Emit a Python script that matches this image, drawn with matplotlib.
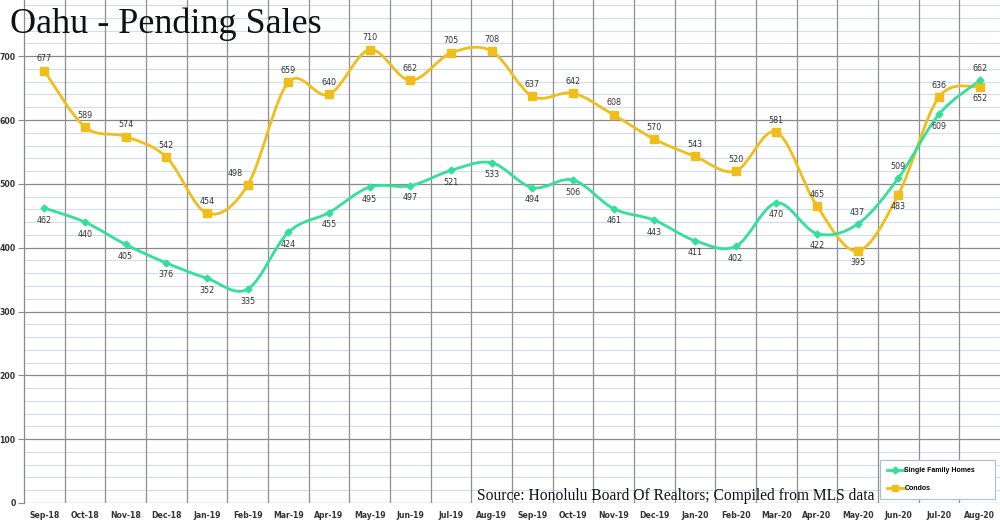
import matplotlib
matplotlib.use("Agg")
import matplotlib.pyplot as plt
import numpy as np
from matplotlib.path import Path
from matplotlib.patches import PathPatch
from matplotlib.lines import Line2D

months = ["Sep-18", "Oct-18", "Nov-18", "Dec-18", "Jan-19", "Feb-19", "Mar-19", "Apr-19",
          "May-19", "Jun-19", "Jul-19", "Aug-19", "Sep-19", "Oct-19", "Nov-19", "Dec-19",
          "Jan-20", "Feb-20", "Mar-20", "Apr-20", "May-20", "Jun-20", "Jul-20", "Aug-20"]
sfh = [462, 440, 405, 376, 352, 335, 424, 455, 495, 497, 521, 533,
       494, 506, 461, 443, 411, 402, 470, 422, 437, 509, 609, 662]
condos = [677, 589, 574, 542, 454, 498, 659, 640, 710, 662, 705, 708,
          637, 642, 608, 570, 543, 520, 581, 465, 395, 483, 636, 652]
sfh_above = {"May-20", "Jun-20", "Aug-20"}
condo_below = {"May-20", "Jun-20", "Aug-20"}

GREEN = "#33E09A"
YELLOW = "#F0BE19"

fig = plt.figure(figsize=(10, 5.22), dpi=100)
ax = fig.add_axes([0.024, 19 / 522, 0.976, 503 / 522])
n = len(months)
x = np.arange(n)
ax.set_xlim(-0.5, n - 0.5)
ax.set_ylim(0, 788)

# grid
for yv in range(0, 800, 20):
    if yv % 100 == 0:
        ax.axhline(yv, color="#8a8a8a", lw=0.9, zorder=1)
    else:
        ax.axhline(yv, color="#d3dbee", lw=0.8, zorder=0.5)
for b in np.arange(0.5, n - 0.5, 1):
    ax.axvline(b, color="#8f8f8f", lw=0.9, zorder=1)

def smooth_path(xs, ys):
    pts = np.column_stack([xs, ys]).astype(float)
    verts = [pts[0]]
    codes = [Path.MOVETO]
    m = len(pts)
    for i in range(m - 1):
        p0 = pts[i - 1] if i > 0 else pts[i]
        p1 = pts[i]
        p2 = pts[i + 1]
        p3 = pts[i + 2] if i + 2 < m else pts[i + 1]
        c1 = p1 + (p2 - p0) / 6.0
        c2 = p2 - (p3 - p1) / 6.0
        verts += [c1, c2, p2]
        codes += [Path.CURVE4] * 3
    return Path(verts, codes)

for ys, col in [(condos, YELLOW), (sfh, GREEN)]:
    ax.add_patch(PathPatch(smooth_path(x, ys), facecolor="none", edgecolor=col, lw=2.0, zorder=3))

ax.plot(x, condos, ls="none", marker="s", ms=6, color=YELLOW, zorder=4)
ax.plot(x, sfh, ls="none", marker="D", ms=3.5, color=GREEN, zorder=4)

lab_kw = dict(fontsize=5.8, color="#333333", ha="center", va="center",
              family="DejaVu Sans", zorder=5)
for i, (m, v) in enumerate(zip(months, sfh)):
    off = 12 if m in sfh_above else -12
    ax.annotate(str(v), (i, v), xytext=(0, off), textcoords="offset pixels", **lab_kw)
for i, (m, v) in enumerate(zip(months, condos)):
    off = -12 if m in condo_below else 12
    dx = -12 if m == "Feb-19" else 0
    ax.annotate(str(v), (i, v), xytext=(dx, off), textcoords="offset pixels", **lab_kw)

ax.set_xticks(x)
ax.set_xticklabels(months, fontsize=5.6, fontweight="bold", color="#333333")
ax.set_yticks(range(0, 800, 100))
ax.set_yticklabels([str(v) for v in range(0, 800, 100)], fontsize=5.6,
                   fontweight="bold", color="#333333")
ax.tick_params(axis="x", length=0, pad=6)
ax.tick_params(axis="y", length=4, color="#8a8a8a", pad=2)
for s in ["top", "right", "bottom"]:
    ax.spines[s].set_visible(False)
ax.spines["left"].set_color("#8a8a8a")
ax.spines["left"].set_linewidth(0.9)

fig.text(0.01, 0.985, "Oahu - Pending Sales", family="Liberation Serif",
         fontsize=26, va="top", ha="left", color="#111111")
fig.text(0.477, 0.043, "Source: Honolulu Board Of Realtors; Compiled from MLS data",
         family="Liberation Serif", fontsize=11.2, va="baseline", ha="left", color="#111111")

handles = [Line2D([], [], color=GREEN, lw=2, marker="D", ms=3.5),
           Line2D([], [], color=YELLOW, lw=2, marker="s", ms=5)]
leg = ax.legend(handles, ["Single Family Homes", "Condos"], loc="center left",
                bbox_to_anchor=(0.877, 0.006, 0.118, 0.08), mode="expand",
                prop={"size": 5.0, "weight": "bold", "family": "Liberation Sans"},
                handlelength=2.4, handletextpad=0.1, borderaxespad=0,
                fancybox=False, framealpha=1, edgecolor="#a8bce0", borderpad=1.0,
                labelspacing=1.6)
leg.get_frame().set_linewidth(0.8)

fig.savefig("out.png", dpi=100)
